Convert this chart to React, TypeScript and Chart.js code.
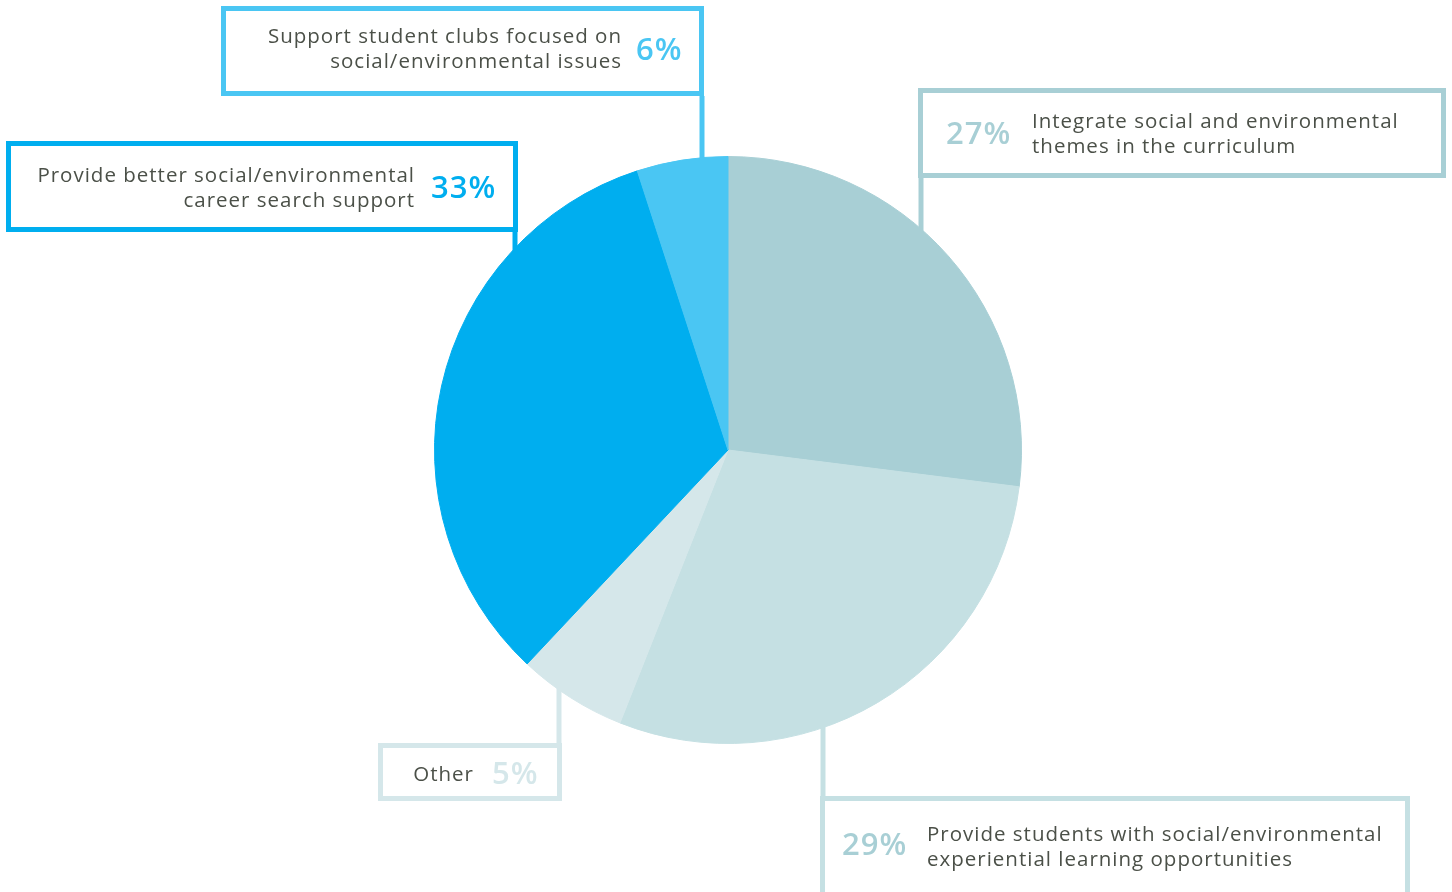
import React, { useEffect, useRef } from "react";
import { Chart, registerables } from "chart.js";

Chart.register(...registerables);

const categories = [
  "Integrate social and environmental themes in the curriculum",
  "Provide students with social/environmental experiential learning opportunities",
  "Other",
  "Provide better social/environmental career search support",
  "Support student clubs focused on social/environmental issues",
];
// slice sizes as drawn in the picture
const sliceValues = [27, 29, 6, 33, 5];
// percentages printed in the callouts
const percentLabels = ["27%", "29%", "5%", "33%", "6%"];
const sliceColors = ["#a8cfd5", "#c5e0e3", "#d5e7ea", "#00aeef", "#4ac6f3"];
const boxColors = ["#a8cfd5", "#c5e0e3", "#d5e7ea", "#00aeef", "#4ac6f3"];
const pctColors = ["#a8cfd5", "#a8cfd5", "#d5e7ea", "#00aeef", "#4ac6f3"];

const textLines = [
  ["Integrate social and environmental", "themes in the curriculum"],
  ["Provide students with social/environmental", "experiential learning opportunities"],
  ["Other"],
  ["Provide better social/environmental", "career search support"],
  ["Support student clubs focused on", "social/environmental issues"],
];

const TEXT_COLOR = "#4b5048";
const FONT = "'Open Sans', 'DejaVu Sans', sans-serif";

type Callout = {
  box: [number, number, number, number]; // x0,y0,x1,y1 (outer)
  leader: [number, number, number]; // x, yFrom, yTo
  layout: "pctRight" | "pctLeft";
  textX: number;
  pctX: number;
  baseY: number;
  pctY: number;
};

const callouts: Callout[] = [
  { box: [918, 88, 1446, 178], leader: [921, 178, 236], layout: "pctLeft", textX: 1032, pctX: 946, baseY: 128, pctY: 144 },
  { box: [820, 796, 1410, 898], leader: [823, 796, 720], layout: "pctLeft", textX: 927, pctX: 842, baseY: 841, pctY: 855 },
  { box: [378, 743, 562, 801], leader: [559, 743, 680], layout: "pctRight", textX: 473, pctX: 492, baseY: 781, pctY: 784 },
  { box: [6, 141, 518, 232], leader: [515, 232, 255], layout: "pctRight", textX: 414, pctX: 431, baseY: 182, pctY: 198 },
  { box: [221, 6, 704, 96], leader: [702, 96, 165], layout: "pctRight", textX: 621, pctX: 636, baseY: 43, pctY: 60 },
];

const LW = 5;

const calloutPlugin = {
  id: "callouts",
  beforeDatasetsDraw(chart: any) {
    const ctx = chart.ctx;
    ctx.save();
    callouts.forEach((c, i) => {
      ctx.strokeStyle = boxColors[i];
      ctx.lineWidth = LW;
      ctx.beginPath();
      ctx.moveTo(c.leader[0], c.leader[1]);
      ctx.lineTo(c.leader[0], c.leader[2]);
      ctx.stroke();
    });
    ctx.restore();
  },
  afterDraw(chart: any) {
    const ctx = chart.ctx;
    ctx.save();
    callouts.forEach((c, i) => {
      const [x0, y0, x1, y1] = c.box;
      ctx.strokeStyle = boxColors[i];
      ctx.lineWidth = LW;
      ctx.strokeRect(x0 + LW / 2, y0 + LW / 2, x1 - x0 - LW, y1 - y0 - LW);
      ctx.fillStyle = TEXT_COLOR;
      ctx.font = `400 20.5px ${FONT}`;
      (ctx as any).letterSpacing = "1px";
      ctx.textBaseline = "alphabetic";
      const lines = textLines[i];
      let tx = c.textX;
      if (c.layout === "pctRight") {
        ctx.textAlign = "right";
        tx = c.textX + 1;
      } else {
        ctx.textAlign = "left";
      }
      lines.forEach((l, k) => ctx.fillText(l, tx, c.baseY + k * 25));
      ctx.fillStyle = pctColors[i];
      ctx.font = `600 31px ${FONT}`;
      (ctx as any).letterSpacing = "1px";
      ctx.textAlign = "left";
      ctx.fillText(percentLabels[i], c.pctX, c.pctY);
      (ctx as any).letterSpacing = "0px";
    });
    ctx.restore();
  },
};

export default function App() {
  const ref = useRef<HTMLCanvasElement>(null);
  useEffect(() => {
    document.body.style.margin = "0";
    const chart = new Chart(ref.current!, {
      type: "pie",
      data: {
        labels: categories,
        datasets: [
          {
            data: sliceValues,
            backgroundColor: sliceColors,
            borderColor: sliceColors,
            borderWidth: 1,
          },
        ],
      },
      options: {
        animation: false,
        responsive: false,
        layout: { padding: { top: 156, bottom: 148, left: 434, right: 430 } },
        plugins: { legend: { display: false }, tooltip: { enabled: false } },
      },
      plugins: [calloutPlugin],
    });
    return () => chart.destroy();
  }, []);
  return (
    <div style={{ position: "absolute", left: 0, top: 0, width: 1452, height: 892, background: "#fff" }}>
      <canvas ref={ref} width={1452} height={892} style={{ width: 1452, height: 892 }} />
    </div>
  );
}
